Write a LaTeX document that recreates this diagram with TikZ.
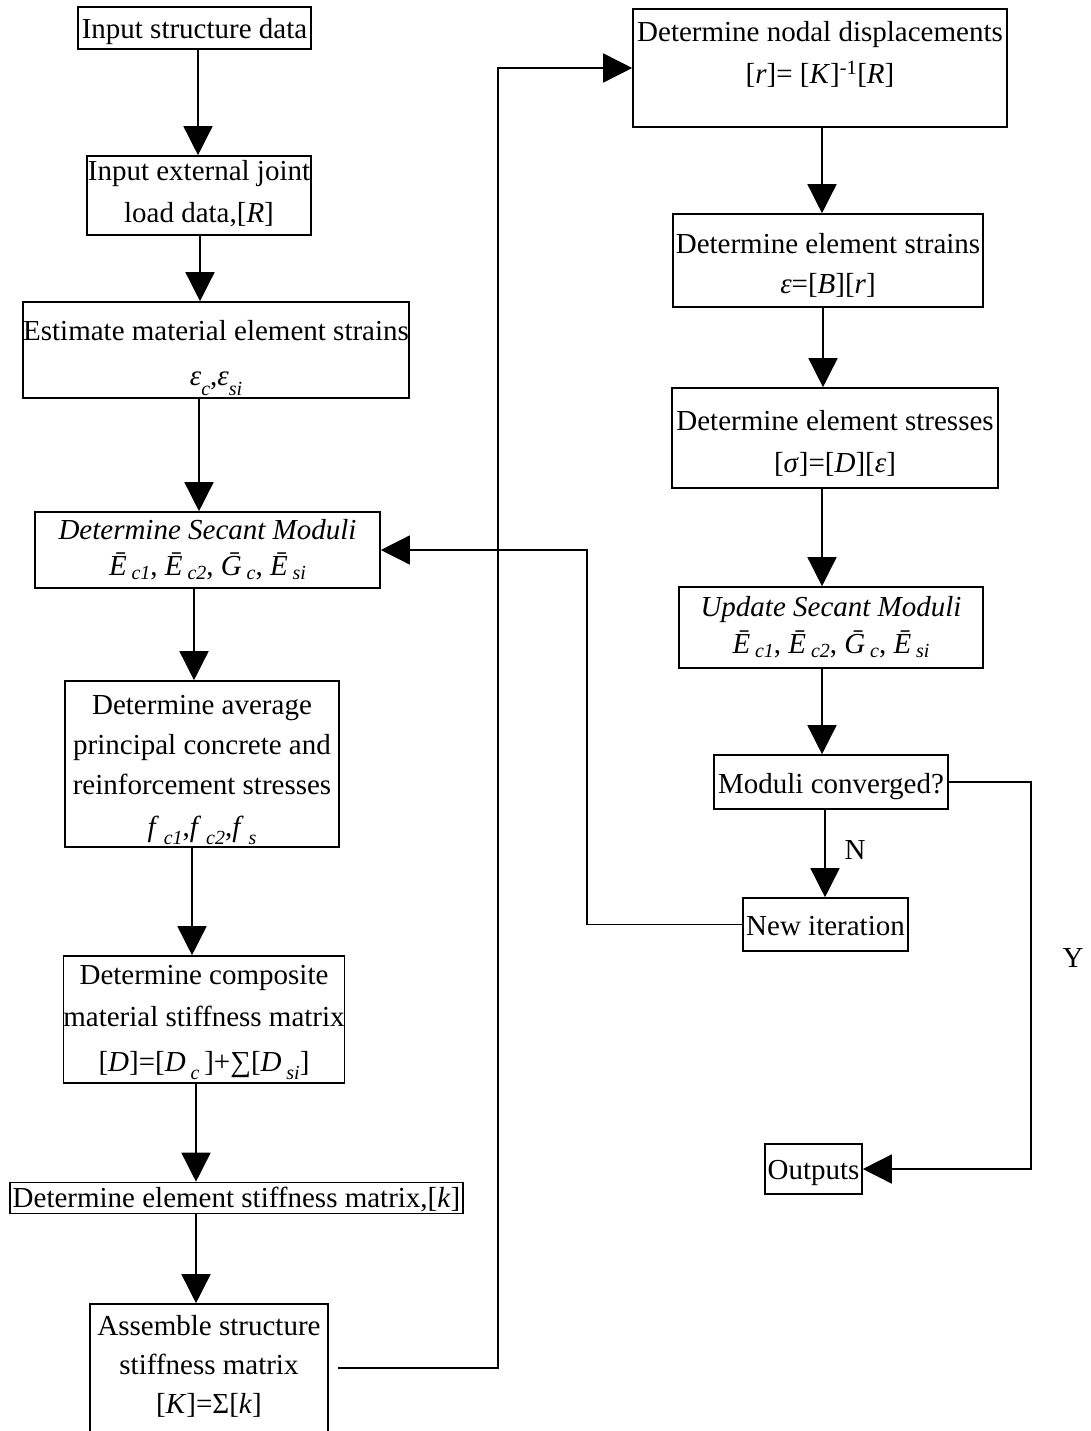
\documentclass[tikz,border=0pt]{standalone}
\usepackage{fontspec}
\setmainfont{Liberation Serif}
\usetikzlibrary{arrows.meta}
\newcommand\iv[1]{\textit{#1}}
\newcommand\sbi[2][8pt]{\raisebox{-#1}[0pt][0pt]{\fontsize{20}{20}\selectfont\textit{#2}}}
\newcommand\Ebar{\textit{\=E}}
\newcommand\Gbar{\textit{\=G}}
\newcommand\tb[2]{\raisebox{-#1}[0pt][0pt]{\begin{tabular}{@{}c@{}}#2\end{tabular}}}
\begin{document}
\begin{tikzpicture}[x=1pt,y=-1pt,
  box/.style={draw, line width=1.6pt, inner sep=0pt,
    font=\fontsize{29}{40}\selectfont},
  arr/.style={line width=1.5pt, -{Triangle[length=29pt,width=29pt]}},
  lbl/.style={font=\fontsize{29}{34}\selectfont, inner sep=0pt}]
\useasboundingbox (0,0) rectangle (1091,1431);
\clip (0,0) rectangle (1091,1431);
% left column
\node[box, minimum width=233, minimum height=42] (b1) at (194.5,28)
  {\tb{9pt}{Input structure data}};
\node[box, minimum width=224, minimum height=79] (b2) at (199,195.5)
  {\tb{4pt}{Input external joint\\[2pt]load data,[\iv{R}]}};
\node[box, minimum width=386, minimum height=96] (b3) at (216,350)
  {\tb{11pt}{Estimate material element strains\\[5pt]\iv{ε}\sbi[10pt]{c},\iv{ε}\sbi[10pt]{si}}};
\node[box, minimum width=345, minimum height=76] (b4) at (207.5,550)
  {\tb{6pt}{\textit{Determine Secant Moduli}\\[-4pt]\Ebar\,\sbi[4pt]{c1}, \Ebar\,\sbi[4pt]{c2}, \Gbar\,\sbi[4pt]{c}, \Ebar\,\sbi[4pt]{si}}};
\node[box, minimum width=274, minimum height=166] (b5) at (202,764)
  {\tb{10pt}{Determine average\\principal concrete and\\reinforcement stresses\\[2pt]\iv{f}\,\sbi{c1},\iv{f}\,\sbi{c2},\iv{f}\,\sbi{s}}};
\node[box, minimum width=278, minimum height=127] (b6) at (204,1019.5)
  {\tb{7pt}{Determine composite\\[2pt]material stiffness matrix\\[5pt]{[}\iv{D}]=[\iv{D}\,\sbi{c}\,]+∑[\iv{D}\,\sbi{si}]}};
\node[box, minimum width=453, minimum height=31] (b7) at (236.5,1198)
  {\tb{8pt}{Determine element stiffness matrix,[\iv{k}]}};
\node[box, minimum width=238, minimum height=128] (b8) at (209,1368)
  {\tb{5pt}{Assemble structure\\[-1pt]stiffness matrix\\[-1pt]{[}\iv{K}]=Σ[\iv{k}]}};
% right column
\node[box, minimum width=374, minimum height=118] (b9) at (820,68)
  {\tb{-7pt}{Determine nodal displacements\\[2pt]{[}\iv{r}]= [\iv{K}]\textsuperscript{-1}[\iv{R}]}};
\node[box, minimum width=310, minimum height=93] (b10) at (828,260.5)
  {\tb{11pt}{Determine element strains\\[0pt]\iv{ε}=[\iv{B}][\iv{r}]}};
\node[box, minimum width=326, minimum height=100] (b11) at (835,438)
  {\tb{12pt}{Determine element stresses\\[2pt]{[}\iv{σ}]=[\iv{D}][\iv{ε}]}};
\node[box, minimum width=304, minimum height=81] (b12) at (831,627.5)
  {\tb{6pt}{\textit{Update Secant Moduli}\\[-3pt]\Ebar\,\sbi[4pt]{c1}, \Ebar\,\sbi[4pt]{c2}, \Gbar\,\sbi[4pt]{c}, \Ebar\,\sbi[4pt]{si}}};
\node[box, minimum width=234, minimum height=54] (b13) at (831,782)
  {\tb{10pt}{Moduli converged?}};
\node[box, minimum width=165, minimum height=53] (b14) at (825.5,924.5)
  {\tb{9pt}{New iteration}};
\node[box, minimum width=97, minimum height=50] (b15) at (813.5,1169)
  {\tb{9pt}{Outputs}};
% labels
\node[lbl] (ln) at (855,850) {N};
\node[lbl] (ly) at (1073,958) {Y};
% connectors left
\draw[arr] (b1.south -| 198,0) -- (b2.north -| 198,0);
\draw[arr] (b2.south -| 200,0) -- (b3.north -| 200,0);
\draw[arr] (b3.south -| 199,0) -- (b4.north -| 199,0);
\draw[arr] (b4.south -| 194,0) -- (b5.north -| 194,0);
\draw[arr] (b5.south -| 192,0) -- (b6.north -| 192,0);
\draw[arr] (b6.south -| 196,0) -- (b7.north -| 196,0);
\draw[arr] (b7.south -| 196,0) -- (b8.north -| 196,0);
\draw[arr] ([xshift=9]b8.east) -- ++(160,0) |- (b9.west);
% connectors right
\draw[arr] (b9.south -| 822,0) -- (b10.north -| 822,0);
\draw[arr] (b10.south -| 823,0) -- (b11.north -| 823,0);
\draw[arr] (b11.south -| 822,0) -- (b12.north -| 822,0);
\draw[arr] (b12.south -| 822,0) -- (b13.north -| 822,0);
\draw[arr] (b13.south -| 825,0) -- (b14.north -| 825,0);
\draw[arr] (b14.west) -- (b14.west -| 587,0) |- (b4.east);
\draw[arr] (b13.east) -- (b13.east -| 1031,0) |- (b15.east);
\end{tikzpicture}
\end{document}
